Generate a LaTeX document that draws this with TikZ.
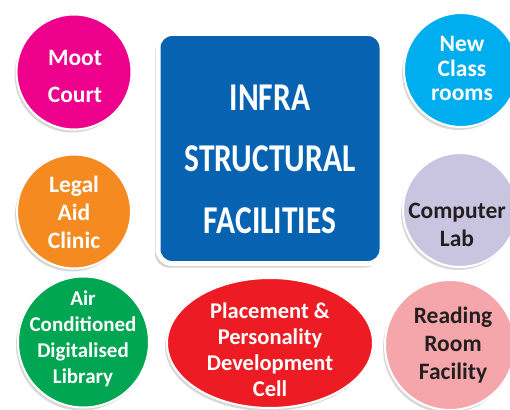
\documentclass[tikz,border=0pt]{standalone}
\usepackage{fontspec}
\usepackage{graphicx}
\setmainfont{Carlito}
\usetikzlibrary{shapes.geometric,shadows}
\definecolor{mootpink}{HTML}{EC008C}
\definecolor{hubblue}{HTML}{0763B1}
\definecolor{classcyan}{HTML}{00AEEF}
\definecolor{legalorange}{HTML}{F58A20}
\definecolor{lablilac}{HTML}{C9C5E1}
\definecolor{libgreen}{HTML}{00A651}
\definecolor{cellred}{HTML}{ED1C24}
\definecolor{readpink}{HTML}{F4A6AB}
\definecolor{darktext}{HTML}{231F20}
\newcommand{\tallline}[1]{\scalebox{1}[1.25]{#1}}
\begin{document}
\begin{tikzpicture}[x=1pt, y=-1pt,
    bubble/.style={circle, draw=white, line width=2pt, inner sep=0pt,
      drop shadow={shadow xshift=-2pt, shadow yshift=-3pt, opacity=.3}},
    bubbletext/.style={align=center, text=white, inner sep=0pt,
      font=\fontsize{23.5}{28}\selectfont\bfseries},
    hubbox/.style={rectangle, rounded corners=14pt, draw=white, line width=5pt,
      fill=hubblue, minimum width=224pt, minimum height=230pt,
      drop shadow={shadow xshift=-3pt, shadow yshift=-4pt, opacity=.35}},
    hubtext/.style={align=center, text=white, inner sep=0pt,
      font=\fontsize{31.5}{61.5}\selectfont\bfseries}]
  \useasboundingbox[fill=white] (0,0) rectangle (510,409);

  \node[hubbox] (hub) at (270,148.5) {};
  \node[hubtext] (hubtitle) at (270,159) {\tallline{INFRA}\\\tallline{STRUCTURAL}\\\tallline{FACILITIES}};

  \node[bubble, fill=mootpink, minimum size=115pt] (moot) at (74,72) {};
  \node[bubble, fill=classcyan, minimum size=114pt] (classrooms) at (461,70) {};
  \node[bubble, fill=legalorange, minimum size=114pt] (legal) at (74,211.5) {};
  \node[bubble, fill=lablilac, minimum size=114pt] (lab) at (460,210) {};
  \node[bubble, fill=libgreen, minimum size=131pt] (library) at (83.5,342) {};
  \node[bubble, ellipse, fill=cellred, minimum width=206pt, minimum height=130pt] (cell) at (270,343) {};
  \node[bubble, fill=readpink, minimum size=130pt] (reading) at (450,345) {};

  \node[bubbletext, font=\fontsize{23.5}{37}\selectfont\bfseries] (moottext) at (75,76.5) {Moot\\Court};
  \node[bubbletext, font=\fontsize{23.5}{24.5}\selectfont\bfseries] (classtext) at (462,68.5) {New\\Class\\rooms};
  \node[bubbletext] (legaltext) at (74,212) {Legal\\Aid\\Clinic};
  \node[bubbletext, text=darktext] (labtext) at (457,224.5) {Computer\\Lab};
  \node[bubbletext, font=\fontsize{21}{26}\selectfont\bfseries] (librarytext) at (83,339) {Air\\Conditioned\\Digitalised\\Library};
  \node[bubbletext, font=\fontsize{22.5}{26}\selectfont\bfseries] (celltext) at (270,350) {Placement \&\\Personality\\Development\\Cell};
  \node[bubbletext, text=darktext] (readingtext) at (453,345) {Reading\\Room\\Facility};
\end{tikzpicture}
\end{document}
